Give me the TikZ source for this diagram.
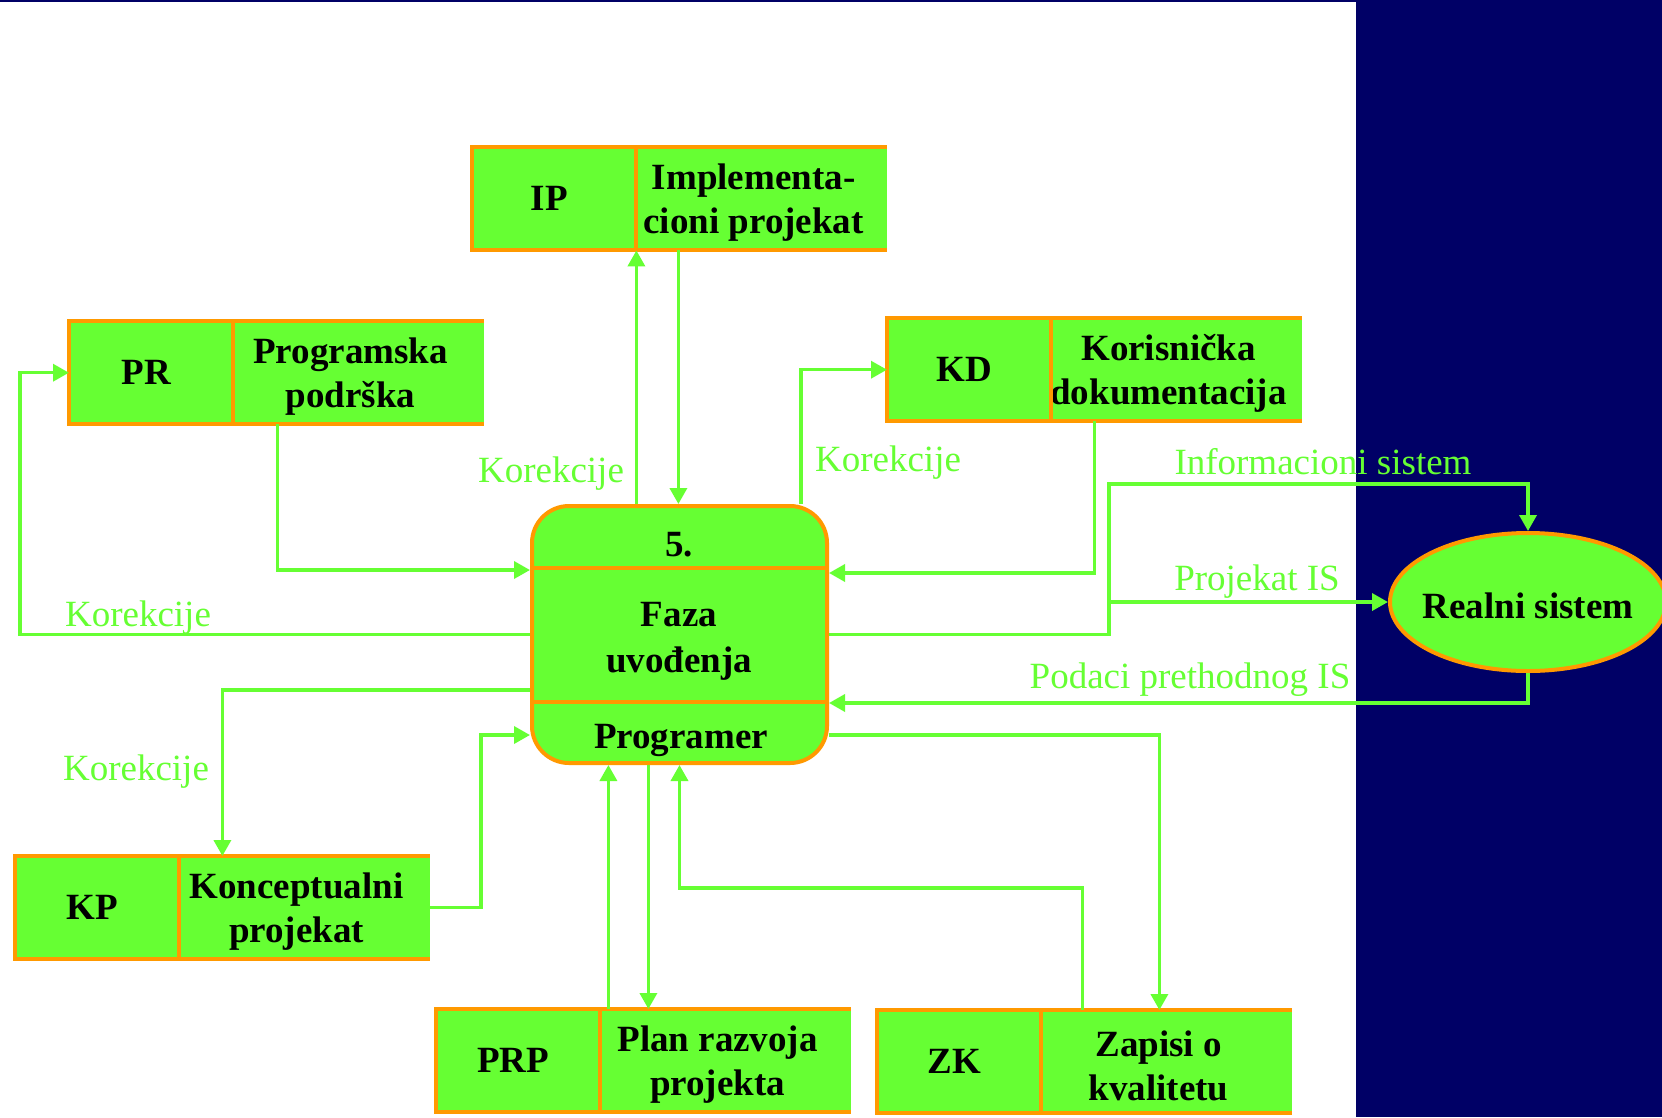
\documentclass[tikz,border=0pt]{standalone}
\usepackage{fontspec}
\setmainfont{Liberation Serif}
\usetikzlibrary{arrows.meta,positioning,shapes.geometric}

\definecolor{dfdgreen}{HTML}{66FF33}
\definecolor{dfdorange}{HTML}{FF9900}
\definecolor{dfdnavy}{HTML}{000066}

\begin{document}
\begin{tikzpicture}[x=1pt, y=-1pt,
    every node/.style={font=\fontsize{37}{44}\selectfont},
    celltext/.style={inner sep=0pt, align=center, font=\fontsize{37}{44}\selectfont\bfseries},
    cell/.style={fill=dfdgreen, minimum height=103pt, inner sep=0pt},
    idcell/.style={cell, minimum width=164pt, label={[celltext, xshift=-5pt]center:#1}},
    namecell/.style={cell, minimum width=250pt, label={[celltext, xshift=-8pt, yshift=-4pt]center:#1}},
    rim/.style={draw=dfdorange, line width=4pt},
    flow/.style={draw=dfdgreen, line width=3.5pt, -{Triangle[length=16pt,width=17pt]}},
    flowlabel/.style={text=dfdgreen, inner sep=0pt}]
    \useasboundingbox (0,0) rectangle (1662,1117);
    \fill[white] (0,0) rectangle (1662,1117);
    \fill[dfdnavy] (1356,0) rectangle (1662,1117);
    \fill[dfdnavy] (0,0) rectangle (1662,2);

    % skladista
    \node[idcell=IP, anchor=north west] (ip) at (472,147) {};
    \node[namecell={Implementa-\\cioni projekat}, right=0pt of ip] (ip-txt) {};
    \node[idcell=PR, anchor=north west] (pr) at (69,321) {};
    \node[namecell={Programska\\podrška}, right=0pt of pr] (pr-txt) {};
    \node[idcell=KD, anchor=north west] (kd) at (887,318) {};
    \node[namecell={Korisnička\\dokumentacija}, right=0pt of kd] (kd-txt) {};
    \node[idcell=KP, anchor=north west] (kp) at (15,856) {};
    \node[namecell={Konceptualni\\projekat}, right=0pt of kp] (kp-txt) {};
    \node[idcell=PRP, anchor=north west] (prp) at (436,1009) {};
    \node[namecell={Plan razvoja\\projekta}, right=0pt of prp] (prp-txt) {};
    \node[idcell=ZK, anchor=north west] (zk) at (877,1010) {};
    \node[namecell={Zapisi o\\kvalitetu}, right=0pt of zk] (zk-txt) {};
    \foreach \s in {ip,pr,kd,kp,prp,zk}{
      \draw[rim] (\s-txt.north east) -- (\s.north west) -- (\s.south west) -- (\s-txt.south east);
      \draw[rim] (\s.north east) -- (\s.south east);
    }

    % proces
    \node[draw=dfdorange, line width=4pt, fill=dfdgreen, rounded corners=37pt,
          minimum width=295pt, minimum height=257pt] (faza) at (679.5,634.5) {};
    \draw[rim] ([yshift=-64pt]faza.north west) -- ([yshift=-64pt]faza.north east);
    \draw[rim] ([yshift=63pt]faza.south west) -- ([yshift=63pt]faza.south east);
    \node[celltext] (num) at (679,545) {5.};
    \node[celltext, font=\fontsize{37}{46}\selectfont\bfseries] (title) at (679,641) {Faza\\uvođenja};
    \node[celltext] (role) at (681,740) {Programer};

    % spoljni entitet
    \node[ellipse, draw=dfdorange, line width=4pt, fill=dfdgreen, inner sep=0pt,
          minimum width=276pt, minimum height=138pt] (rs) at (1528,602) {};
    \node[celltext] (rs-txt) at (1528,606) {Realni sistem};

    % tokovi
    \coordinate (loopl) at (20,0);
    \coordinate (bend) at (1109,484);
    \coordinate (b9) at ([xshift=8pt]prp.north east);
    \coordinate (b10) at ([xshift=48pt]prp.north east);
    \coordinate (b2) at ([xshift=42pt]ip.south east);

    \draw[flow] (faza.north -| ip.south east) -- (ip.south east);
    \draw[flow] (b2) -- (b2 |- faza.north);
    \draw[flow] ([xshift=-28pt]faza.north east) |- (kd.west);
    \draw[flow] ([xshift=43pt]kd.south east) |- ([yshift=-69pt]faza.north east);
    \draw[flow] ([xshift=44pt]pr.south east) |- ([yshift=-66pt]faza.north west);
    \draw[flow] (faza.west) -| (loopl |- pr.west) -- (pr.west);
    \draw[flow] ([yshift=-186pt]faza.north west) -| ([xshift=43pt]kp.north east);
    \draw[flow] (kp-txt.east) -| ([xshift=-49pt,yshift=30pt]faza.south west) -- ([yshift=30pt]faza.south west);
    \draw[flow] (b9) -- (b9 |- faza.south);
    \draw[flow] (b10 |- faza.south) -- (b10);
    \draw[flow] ([xshift=41pt]zk.north east) |- ([yshift=-123pt]faza.south) -- (faza.south);
    \draw[flow] ([yshift=30pt]faza.south east) -| ([xshift=118pt]zk.north east);
    \draw[flow] (faza.east) -| (bend) -| (rs.north);
    \draw[flow] (bend |- rs.west) -- (rs.west);
    \draw[flow] (rs.south) |- ([yshift=62pt]faza.south east);

    \node[flowlabel] (kor-ip) at (551,474) {Korekcije};
    \node[flowlabel] (kor-kd) at (888,463) {Korekcije};
    \node[flowlabel] (kor-pr) at (138,618) {Korekcije};
    \node[flowlabel] (kor-kp) at (136,772) {Korekcije};
    \node[flowlabel] (lbl-is) at (1323,462) {Informacioni sistem};
    \node[flowlabel] (lbl-proj) at (1257,582) {Projekat IS};
    \node[flowlabel] (lbl-pod) at (1190,680) {Podaci prethodnog IS};
  \end{tikzpicture}
\end{document}
